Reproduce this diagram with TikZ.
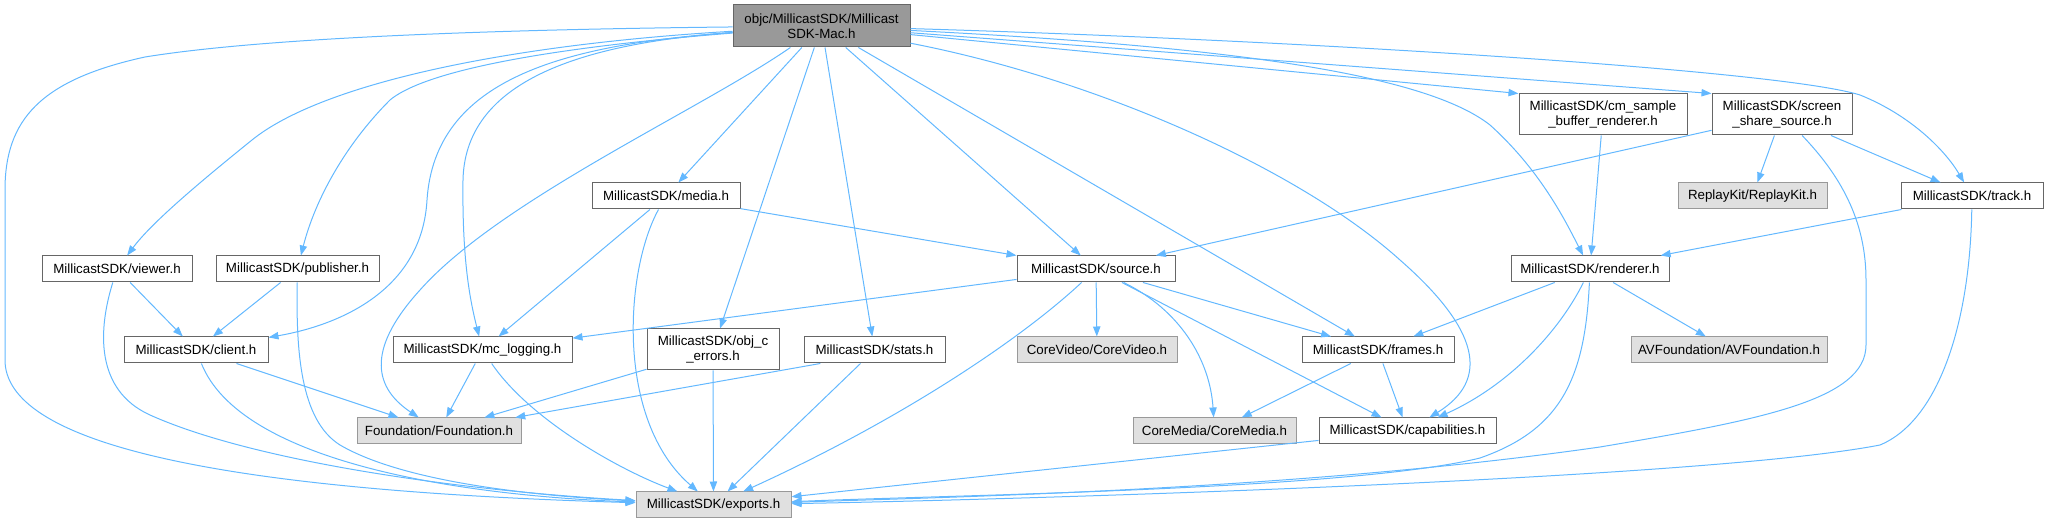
\documentclass[tikz,border=0pt]{standalone}
\usepackage{fontspec}
\setmainfont{Liberation Sans}
\usetikzlibrary{arrows.meta}
\definecolor{edgeblue}{HTML}{63B8FF}
\definecolor{boxline}{HTML}{666666}
\definecolor{extline}{HTML}{999999}
\definecolor{extfill}{HTML}{E0E0E0}
\definecolor{rootfill}{HTML}{999999}

\begin{document}
\begin{tikzpicture}[x=0.75pt,y=-0.75pt,
   hfile/.style={draw=boxline,fill=white,line width=0.75pt,minimum height=19.5pt,inner sep=0pt,align=center,font=\fontsize{10}{11.5}\selectfont},
   sysfile/.style={hfile,draw=extline,fill=extfill},
   rootfile/.style={hfile,fill=rootfill,minimum height=31.5pt},
   tall/.style={minimum height=30.75pt},
   wd/.style={minimum width=#1*0.75pt},
   incl/.style={draw=edgeblue,line width=0.75pt,-{Triangle[length=7.5pt,width=5.5pt]}}]

  \useasboundingbox (0,0) rectangle (2049,523);

  % --- cabeceras ---
  \node[rootfile,wd=177] (root) at (821.5,26) {objc/MillicastSDK/Millicast\\SDK-Mac.h};
  \node[hfile,wd=150] (viewer) at (117,269) {MillicastSDK/viewer.h};
  \node[hfile,wd=163] (publisher) at (297.5,269) {MillicastSDK/publisher.h};
  \node[hfile,wd=144] (client) at (196,350) {MillicastSDK/client.h};
  \node[hfile,wd=179] (mclogging) at (482.5,350) {MillicastSDK/mc\_logging.h};
  \node[hfile,wd=148] (media) at (666,196) {MillicastSDK/media.h};
  \node[hfile,tall,wd=132] (objc) at (713,349.5) {MillicastSDK/obj\_c\\\_errors.h};
  \node[hfile,wd=141] (stats) at (874.5,350) {MillicastSDK/stats.h};
  \node[hfile,tall,wd=168] (cmsample) at (1603,114.5) {MillicastSDK/cm\_sample\\\_buffer\_renderer.h};
  \node[hfile,tall,wd=140] (screenshare) at (1782,114.5) {MillicastSDK/screen\\\_share\_source.h};
  \node[hfile,wd=142] (track) at (1972,196) {MillicastSDK/track.h};
  \node[hfile,wd=158] (source) at (1096,269) {MillicastSDK/source.h};
  \node[hfile,wd=158] (renderer) at (1590,269) {MillicastSDK/renderer.h};
  \node[hfile,wd=152] (frames) at (1378,350) {MillicastSDK/frames.h};
  \node[hfile,wd=177] (capabilities) at (1407.5,431) {MillicastSDK/capabilities.h};

  % --- cabeceras del sistema ---
  \node[sysfile,wd=164] (Foundation) at (439,431) {Foundation/Foundation.h};
  \node[sysfile,wd=155] (exports) at (713.5,505) {MillicastSDK/exports.h};
  \node[sysfile,wd=149] (ReplayKit) at (1752.5,196) {ReplayKit/ReplayKit.h};
  \node[sysfile,wd=160] (CoreVideo) at (1097,350) {CoreVideo/CoreVideo.h};
  \node[sysfile,wd=196] (AVFoundation) at (1729,350) {AVFoundation/AVFoundation.h};
  \node[sysfile,wd=163] (CoreMedia) at (1214.5,431) {CoreMedia/CoreMedia.h};

  % --- desde SDK-Mac.h ---
  \draw[incl] (root) .. controls (450,30) and (250,40) .. (145,57) .. controls (40,80) and (5,120) .. (5,190) -- (5,360) .. controls (5,440) and (200,490) .. (exports);
  \draw[incl] (root) .. controls (500,45) and (320,85) .. (252,140) .. controls (190,190) and (150,225) .. (viewer);
  \draw[incl] (root) .. controls (520,50) and (420,75) .. (390,100) .. controls (345,145) and (315,200) .. (publisher);
  \draw[incl] (root) .. controls (560,45) and (435,80) .. (427,200) .. controls (422,290) and (340,325) .. (client);
  \draw[incl] (root) .. controls (560,45) and (465,90) .. (463,180) .. controls (462,260) and (470,300) .. (mclogging);
  \draw[incl] (root) .. controls (700,110) and (500,200) .. (420,290) .. controls (370,345) and (370,385) .. (Foundation);
  \draw[incl] (root) -- (media);
  \draw[incl] (root) -- (objc);
  \draw[incl] (root) -- (stats);
  \draw[incl] (root) -- (source);
  \draw[incl] (root) -- (frames);
  \draw[incl] (root) .. controls (1100,80) and (1300,170) .. (1400,260) .. controls (1480,330) and (1490,380) .. (capabilities);
  \draw[incl] (root) .. controls (1200,45) and (1420,70) .. (1490,125) .. controls (1540,170) and (1565,220) .. (renderer);
  \draw[incl] (root) -- (cmsample.north west);
  \draw[incl] (root) -- (screenshare.north west);
  \draw[incl] (root) .. controls (1300,40) and (1780,70) .. (1860,95) .. controls (1910,115) and (1945,150) .. (track);

  % --- izquierda ---
  \draw[incl] (viewer) -- (client);
  \draw[incl] (viewer) .. controls (98,330) and (95,390) .. (150,415) .. controls (250,460) and (450,490) .. (exports);
  \draw[incl] (publisher) -- (client);
  \draw[incl] (publisher) .. controls (296,350) and (300,420) .. (340,445) .. controls (400,480) and (520,495) .. (exports);
  \draw[incl] (client) -- (Foundation);
  \draw[incl] (client) .. controls (240,460) and (450,495) .. (exports);
  \draw[incl] (mclogging) -- (Foundation);
  \draw[incl] (mclogging) .. controls (530,420) and (620,470) .. (exports);
  \draw[incl] (media) -- (mclogging);
  \draw[incl] (media) .. controls (625,270) and (615,420) .. (exports);
  \draw[incl] (media) -- (source);
  \draw[incl] (objc) -- (Foundation);
  \draw[incl] (objc) -- (exports);
  \draw[incl] (stats.-166) -- (Foundation);
  \draw[incl] (stats) -- (exports);

  % --- source.h ---
  \draw[incl] (source) -- (mclogging);
  \draw[incl] (source) .. controls (1020,340) and (900,420) .. (exports);
  \draw[incl] (source) -- (CoreVideo);
  \draw[incl] (source) .. controls (1180,310) and (1210,360) .. (CoreMedia);
  \draw[incl] (source) -- (frames);
  \draw[incl] (source) -- (capabilities);
  \draw[incl] (frames) -- (CoreMedia);
  \draw[incl] (frames) -- (capabilities);

  % --- derecha ---
  \draw[incl] (renderer) -- (frames);
  \draw[incl] (renderer) .. controls (1560,330) and (1510,385) .. (capabilities);
  \draw[incl] (renderer) -- (AVFoundation);
  \draw[incl] (renderer) .. controls (1585,380) and (1560,430) .. (1480,458) .. controls (1350,490) and (950,495) .. (exports);
  \draw[incl] (capabilities) -- (exports);
  \draw[incl] (cmsample) -- (renderer);
  \draw[incl] (screenshare) -- (source);
  \draw[incl] (screenshare) -- (ReplayKit);
  \draw[incl] (screenshare) -- (track);
  \draw[incl] (screenshare) .. controls (1840,175) and (1866,220) .. (1866,280) -- (1866,345) .. controls (1866,400) and (1760,420) .. (1600,447) .. controls (1300,490) and (950,497) .. (exports);
  \draw[incl] (track) -- (renderer);
  \draw[incl] (track) .. controls (1970,320) and (1940,420) .. (1880,445) .. controls (1700,480) and (1000,500) .. (exports);
\end{tikzpicture}
\end{document}
